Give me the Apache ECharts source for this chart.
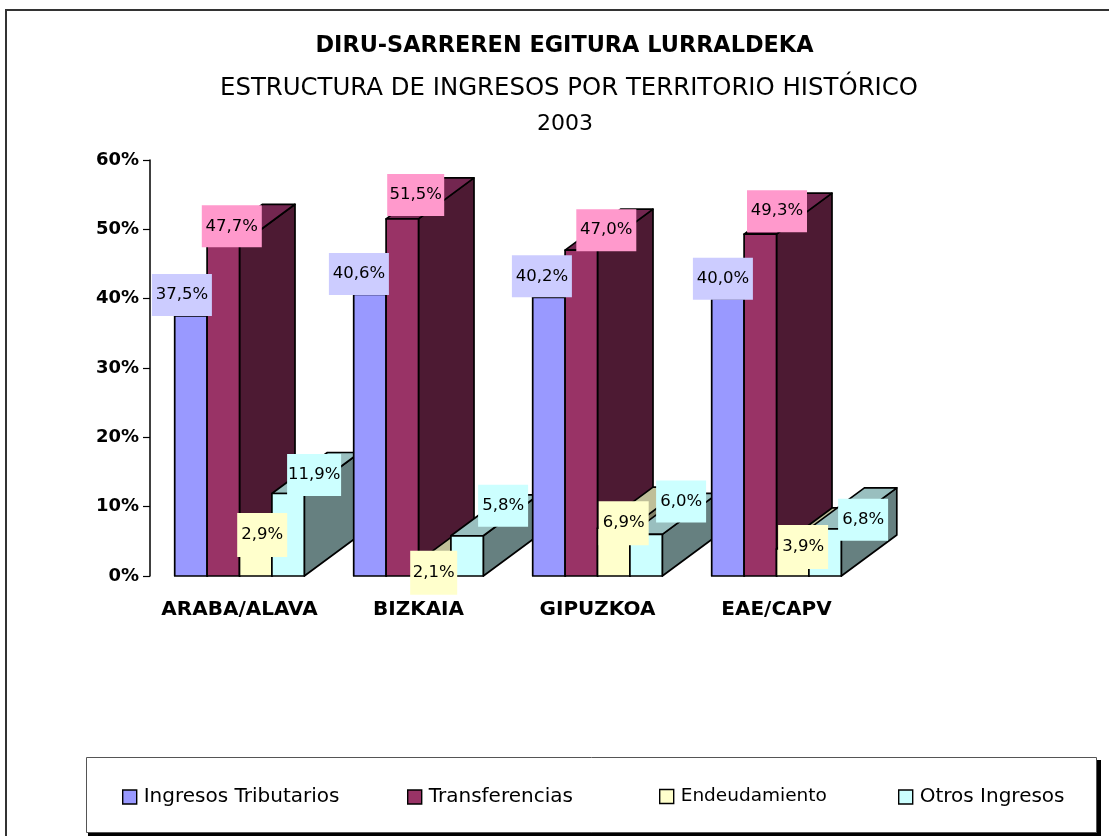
<!DOCTYPE html>
<html>
<head>
<meta charset="utf-8">
<title>Estructura de ingresos</title>
<script src="https://cdn.jsdelivr.net/npm/echarts@6/dist/echarts.min.js"></script>
<style>
  html, body { margin: 0; padding: 0; background: #fff; }
  #chart { width: 1109px; height: 836px; }
</style>
</head>
<body>
<div id="chart"></div>
<script>
const categories = ['ARABA/ALAVA', 'BIZKAIA', 'GIPUZKOA', 'EAE/CAPV'];
const seriesNames = ['Ingresos Tributarios', 'Transferencias', 'Endeudamiento', 'Otros Ingresos'];
const tributarios = [37.5, 40.6, 40.2, 40.0];
const transferencias = [47.7, 51.5, 47.0, 49.3];
const endeudamiento = [2.9, 2.1, 6.9, 3.9];
const otros = [11.9, 5.8, 6.0, 6.8];
const seriesValues = [tributarios, transferencias, endeudamiento, otros];

const FONT = '"DejaVu Sans", sans-serif';
// front, top, side, label background
const palette = [
  ['#9999ff', '#7373bf', '#4d4d80', '#ccccff'],
  ['#993366', '#732650', '#4d1a33', '#ff99cc'],
  ['#ffffcc', '#bfbf99', '#808066', '#ffffcc'],
  ['#ccffff', '#99bfbf', '#668080', '#ccffff']
];
const boxHeights = [42, 42, 44, 42];
// label centre relative to the top centre of the bar, by [category][series]
const labelNudge = [
  [[-9, -21], [8.5, -19], [6.5, -21], [26, -18.5]],
  [[-11, -20.5], [13.4, -24], [-1, 11.2], [36, -30]],
  [[-7, -21], [25, -20], [10, -5], [35, -33]],
  [[-5, -20], [16.7, -23], [10.4, -2], [38, -9]]
];
const legendLefts = [122, 407, 659, 898];
const legendFontSizes = [20, 20, 18.5, 20];
const DEPTH_X = 55.5;
const DEPTH_Y = 41;
const BAR_SHARE = 0.181;

function renderBar(seriesIdx) {
  return function (params, api) {
    const cat = api.value(0);
    const val = api.value(1);
    const base = api.coord([cat, 0]);
    const top = api.coord([cat, val]);
    const w = api.size([1, 0])[0] * BAR_SHARE;
    const x0 = base[0] + (seriesIdx - 2) * w;
    const x1 = x0 + w;
    const yT = top[1];
    const yB = base[1];
    const c = palette[seriesIdx];
    const line = { stroke: '#000', lineWidth: 1.7, lineJoin: 'round' };
    const z = cat * 10 + seriesIdx;
    const nudge = labelNudge[cat][seriesIdx];
    const text = val.toFixed(1).replace('.', ',') + '%';
    // boxes hug the text, and a 1 is a narrow digit
    const ones = text.split('1').length - 1;
    const boxW = (val >= 10 ? 60 : 50) - 3 * ones;
    const boxH = boxHeights[seriesIdx];
    const lx = x0 + w / 2 + nudge[0];
    const ly = yT + nudge[1];
    return {
      type: 'group',
      children: [
        {
          type: 'polygon', z2: z,
          shape: { points: [[x1, yT], [x1 + DEPTH_X, yT - DEPTH_Y], [x1 + DEPTH_X, yB - DEPTH_Y], [x1, yB]] },
          style: Object.assign({ fill: c[2] }, line)
        },
        {
          type: 'polygon', z2: z,
          shape: { points: [[x0, yT], [x0 + DEPTH_X, yT - DEPTH_Y], [x1 + DEPTH_X, yT - DEPTH_Y], [x1, yT]] },
          style: Object.assign({ fill: c[1] }, line)
        },
        {
          type: 'rect', z2: z,
          shape: { x: x0, y: yT, width: w, height: yB - yT },
          style: Object.assign({ fill: c[0] }, line)
        },
        {
          type: 'rect', z2: 100,
          shape: { x: lx - boxW / 2, y: ly - boxH / 2, width: boxW, height: boxH },
          style: { fill: c[3] }
        },
        {
          type: 'text', z2: 101, x: lx, y: ly,
          style: {
            text: text,
            align: 'center', verticalAlign: 'middle',
            fill: '#000', font: '16.5px ' + FONT
          }
        }
      ]
    };
  };
}

const chart = echarts.init(document.getElementById('chart'), null, { renderer: 'canvas' });
const option = {
  animation: false,
  backgroundColor: '#fff',
  title: [
    { text: 'DIRU-SARREREN EGITURA LURRALDEKA', left: 564.5, top: 35, padding: 0, textAlign: 'center',
      textStyle: { fontFamily: FONT, fontSize: 22.4, fontWeight: 'bold', color: '#000' } },
    { text: 'ESTRUCTURA DE INGRESOS POR TERRITORIO HISTÓRICO', left: 569, top: 77, padding: 0, textAlign: 'center',
      textStyle: { fontFamily: FONT, fontSize: 24.4, fontWeight: 'normal', color: '#000' } },
    { text: '2003', left: 565, top: 113, padding: 0, textAlign: 'center',
      textStyle: { fontFamily: FONT, fontSize: 22, fontWeight: 'normal', color: '#000' } }
  ],
  grid: { left: 150, top: 160, width: 716, height: 416 },
  xAxis: {
    type: 'category',
    data: categories,
    axisLine: { show: false },
    axisTick: { show: false },
    axisLabel: { color: '#000', fontFamily: FONT, fontSize: 20, fontWeight: 'bold', margin: 24, interval: 0 }
  },
  yAxis: {
    type: 'value',
    min: 0,
    max: 60,
    interval: 10,
    splitLine: { show: false },
    axisLine: { show: true, lineStyle: { color: '#000', width: 1.5 } },
    axisTick: { show: true, length: 7, lineStyle: { color: '#000', width: 1.2 } },
    axisLabel: { color: '#000', fontFamily: FONT, fontSize: 18, fontWeight: 'bold', margin: 11, formatter: '{value}%' }
  },
  legend: seriesNames.map((name, i) => ({
    data: [name],
    left: legendLefts[i],
    top: 787,
    padding: 0,
    icon: 'rect',
    itemWidth: 14,
    itemHeight: 14,
    itemStyle: { borderColor: '#000', borderWidth: 1.4 },
    textStyle: { color: '#000', fontFamily: FONT, fontSize: legendFontSizes[i], padding: [0, 0, 0, 2] },
    selectedMode: false
  })),
  graphic: [
    // sheet frame, open at the right and bottom edges
    { type: 'polyline', silent: true, z: 0, shape: { points: [[6, 836], [6, 10], [1109, 10]] }, style: { fill: null, stroke: '#333', lineWidth: 2 } },
    // legend box and its hard shadow
    { type: 'rect', silent: true, z: 0, shape: { x: 88, y: 760, width: 1013, height: 76 }, style: { fill: '#000' } },
    { type: 'rect', silent: true, z: 1, shape: { x: 86.5, y: 757.5, width: 1010, height: 75 }, style: { fill: '#fff', stroke: '#555', lineWidth: 1 } }
  ],
  series: seriesNames.map((name, s) => ({
    name: name,
    type: 'custom',
    renderItem: renderBar(s),
    itemStyle: { color: palette[s][0] },
    encode: { x: 0, y: 1 },
    data: seriesValues[s].map((v, c) => [c, v])
  }))
};
chart.setOption(option);
</script>
</body>
</html>
